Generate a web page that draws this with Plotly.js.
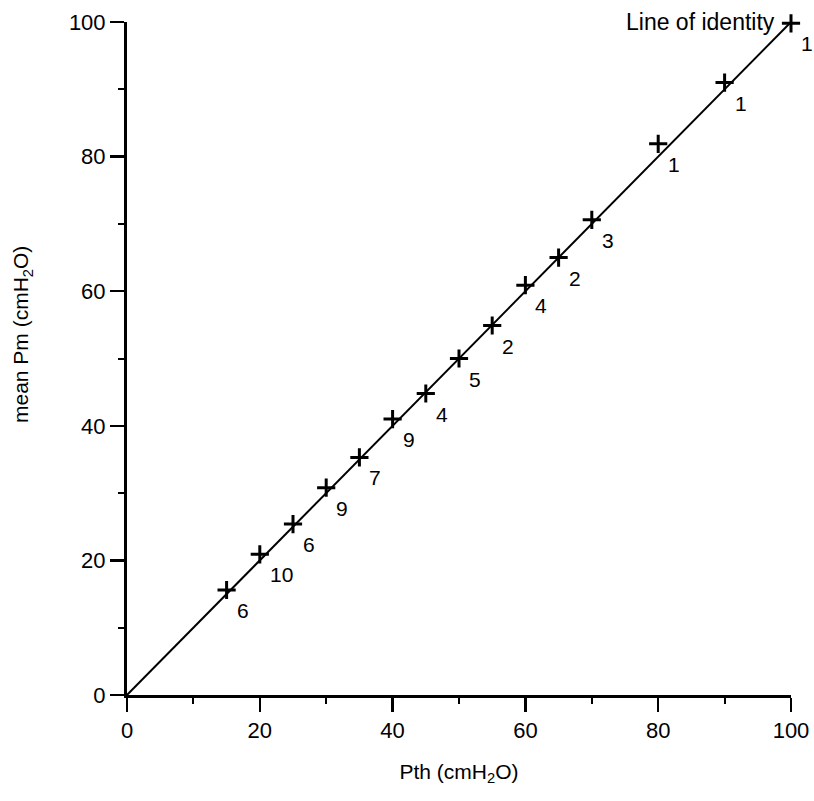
<!DOCTYPE html>
<html>
<head>
<meta charset="utf-8">
<script src="https://cdn.plot.ly/plotly-3.0.1.min.js"></script>
<style>html,body{margin:0;padding:0;background:#fff;}</style>
</head>
<body>
<div id="chart" style="width:814px;height:801px;"></div>
<script>
// Data
const pth   = [15, 20, 25, 30, 35, 40, 45, 50, 55, 60, 65, 70, 80, 90, 100];
const meanPm = [15.6, 20.9, 25.4, 30.8, 35.3, 41.0, 44.8, 50.0, 54.9, 60.9, 65.0, 70.6, 81.9, 91.0, 99.8];
const nLabels = ["6", "10", "6", "9", "7", "9", "4", "5", "2", "4", "2", "3", "1", "1", "1"];
const identityX = [0, 100];
const identityY = [0, 100];
const tickVals = [0, 20, 40, 60, 80, 100];
const tickText = ["0", "20", "40", "60", "80", "100"];
const minorVals = [10, 30, 50, 70, 90];

const FONT = "Liberation Sans, Arial, Helvetica, sans-serif";

const traces = [
  {
    x: identityX, y: identityY, mode: "lines", type: "scatter",
    line: {color: "#000", width: 2}, hoverinfo: "skip", showlegend: false
  },
  {
    x: pth, y: meanPm, mode: "markers", type: "scatter",
    marker: {symbol: "cross-thin-open", size: 13, color: "#000", line: {color: "#000", width: 3}},
    showlegend: false, cliponaxis: false
  }
];

const annotations = pth.map((x, i) => ({
  x: x, y: meanPm[i], xref: "x", yref: "y", text: nLabels[i], showarrow: false,
  xanchor: "left", yanchor: "top", xshift: 8, yshift: -7,
  font: {family: FONT, size: 21, color: "#000"}
}));
annotations.push({
  x: 100, y: 100, xref: "x", yref: "y", text: "Line of identity", showarrow: false,
  xanchor: "right", yanchor: "middle", xshift: -14, yshift: 0,
  font: {family: FONT, size: 23, color: "#000"}
});
annotations.push({
  x: -0.158, y: 0.535, xref: "paper", yref: "paper", text: "mean Pm (cmH<sub>2</sub>O)",
  textangle: -90, showarrow: false, xanchor: "center", yanchor: "middle",
  font: {family: FONT, size: 21, color: "#000"}
});

const axisCommon = {
  range: [0, 100], showgrid: false, zeroline: false,
  showline: true, linecolor: "#000", linewidth: 3,
  ticks: "outside", tickcolor: "#000", tickwidth: 2.5, ticklen: 14,
  tickmode: "array", tickvals: tickVals, ticktext: tickText,
  tickfont: {family: FONT, size: 22, color: "#000"},
  minor: {tickmode: "array", tickvals: minorVals, ticks: "outside", ticklen: 6, tickwidth: 2, tickcolor: "#000", showgrid: false},
  fixedrange: true
};

const layout = {
  width: 814, height: 801,
  margin: {l: 127, r: 23, t: 22, b: 106},
  paper_bgcolor: "#fff", plot_bgcolor: "#fff",
  showlegend: false,
  xaxis: Object.assign({}, axisCommon, {
    title: {text: "Pth (cmH<sub>2</sub>O)", font: {family: FONT, size: 21, color: "#000"}, standoff: 22}
  }),
  yaxis: Object.assign({}, axisCommon),
  annotations: annotations
};

Plotly.newPlot("chart", traces, layout, {displayModeBar: false, staticPlot: true});
</script>
</body>
</html>
